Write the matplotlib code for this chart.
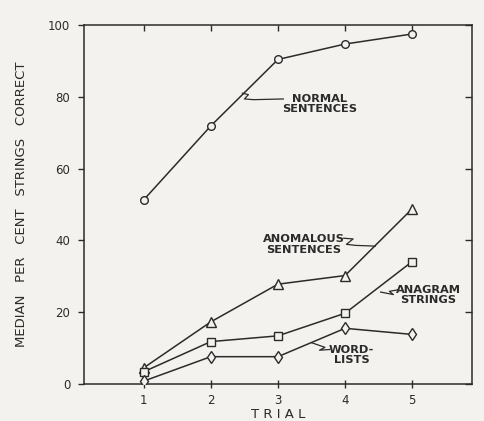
import numpy as np
import matplotlib.pyplot as plt

trials = [1, 2, 3, 4, 5]
normal = [51.3, 71.9, 90.4, 94.7, 97.5]
anomalous = [4.5, 17.3, 27.8, 30.2, 48.8]
anagram = [3.4, 11.8, 13.4, 19.7, 34.1]
wordlists = [0.8, 7.6, 7.6, 15.5, 13.8]

ink = '#2b2b2b'
paper = '#f3f2ee'

plt.rcParams['font.family'] = ['DejaVu Sans']

fig = plt.figure(figsize=(4.84, 4.21), dpi=100, facecolor=paper)
ax = fig.add_axes([0.1736, 0.088, 0.8014, 0.8526])
ax.set_facecolor(paper)

style = dict(color=ink, lw=1.1, mfc=paper, mec=ink, mew=1.0, zorder=3)
ax.plot(trials, normal, marker='o', ms=5.5, **style)
ax.plot(trials, anomalous, marker='^', ms=6.5, **style)
ax.plot(trials, anagram, marker='s', ms=5.5, **style)
ax.plot(trials, wordlists, marker='d', ms=6.5, **style)

ax.set_xlim(0.11, 5.89)
ax.set_ylim(0, 100)
ax.set_xticks(trials)
ax.set_yticks([0, 20, 40, 60, 80, 100])

for s in ax.spines.values():
    s.set_color(ink)
    s.set_linewidth(1.1)

ax.tick_params(axis='y', direction='out', length=4, width=1, color=ink,
               labelcolor=ink, labelsize=8.5, pad=6)
ax.tick_params(axis='x', direction='inout', length=6, width=1, color=ink,
               labelcolor=ink, labelsize=8.5, pad=4)

# top and right ticks point inward
top = ax.secondary_xaxis('top')
top.set_xticks(trials, labels=[])
top.tick_params(direction='in', length=4, width=1, color=ink)
top.spines['top'].set_visible(False)
right = ax.secondary_yaxis('right')
right.set_yticks([0, 20, 40, 60, 80, 100], labels=[])
right.tick_params(direction='in', length=5, width=1, color=ink)
right.spines['right'].set_visible(False)

ax.set_xlabel('T R I A L', fontsize=9.5, color=ink, labelpad=1)
ax.set_ylabel('MEDIAN   PER   CENT   STRINGS   CORRECT', fontsize=9.5,
              color=ink, labelpad=14)


def leader(xs, ys):
    # little squiggle leader line like the drawn original
    ax.plot(xs, ys, color=ink, lw=0.9, zorder=2)


lab = dict(fontsize=8.2, color=ink, ha='center', va='center',
           multialignment='center', fontweight='bold', linespacing=1.05)

ax.text(3.62, 78.0, 'NORMAL\nSENTENCES', **lab)
leader([2.47, 2.56, 2.50, 2.64, 3.08], [81.0, 80.6, 79.4, 79.2, 79.4])

ax.text(3.38, 38.8, 'ANOMALOUS\nSENTENCES', **lab)
leader([3.98, 4.12, 4.02, 4.16, 4.45], [40.6, 40.4, 38.9, 38.6, 38.4])

ax.text(5.24, 24.8, 'ANAGRAM\nSTRINGS', **lab)
leader([4.78, 4.66, 4.72, 4.53], [26.2, 25.8, 24.9, 25.6])

ax.text(4.10, 8.0, 'WORD-\nLISTS', **lab)
leader([3.77, 3.62, 3.70, 3.50], [9.6, 9.4, 10.2, 11.5])

fig.savefig('out.png', dpi=100, facecolor=paper)
